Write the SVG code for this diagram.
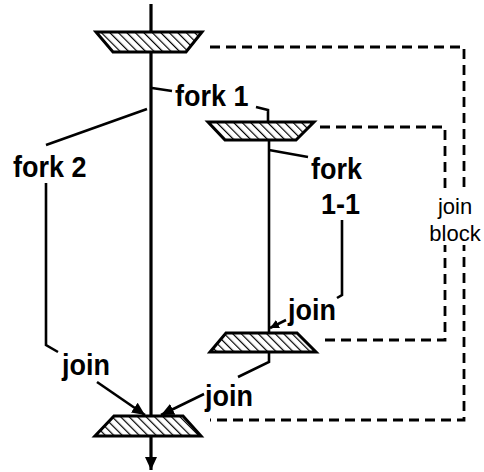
<svg xmlns="http://www.w3.org/2000/svg" width="484" height="472" viewBox="0 0 484 472">
  <defs>
    <pattern id="hatch" patternUnits="userSpaceOnUse" width="6" height="6" patternTransform="rotate(-45)">
      <line x1="0" y1="0" x2="0" y2="6" stroke="#000" stroke-width="2.4"/>
    </pattern>
    <marker id="arr" markerUnits="userSpaceOnUse" markerWidth="14" markerHeight="12" refX="13" refY="6" orient="auto">
      <path d="M0,0 L13,6 L0,12 Z" fill="#000"/>
    </marker>
    <marker id="arrs" markerUnits="userSpaceOnUse" markerWidth="10" markerHeight="9" refX="9" refY="4.5" orient="auto">
      <path d="M0,0 L9,4.5 L0,9 Z" fill="#000"/>
    </marker>
  </defs>
  <style>
    .bar { fill: url(#hatch); stroke: #000; stroke-width: 3; stroke-linejoin: miter; }
    .ln { fill: none; stroke: #000; stroke-width: 2.6; }
    .main { fill: none; stroke: #000; stroke-width: 3.2; }
    .dash { fill: none; stroke: #000; stroke-width: 2.8; stroke-dasharray: 10 6; }
    .lbl { font-family: "Liberation Sans", Arial, sans-serif; font-weight: bold; font-size: 27px; fill: #000; }
    .blk { font-family: "Liberation Sans", Arial, sans-serif; font-size: 22px; fill: #000; text-anchor: middle; }
  </style>
  <rect width="484" height="472" fill="#fff"/>

  <g id="connectors">
    <line class="main" x1="151" y1="4" x2="151" y2="32"/>
    <line class="main" x1="151" y1="52" x2="151" y2="416"/>
    <line class="main" x1="151" y1="437" x2="151" y2="470" marker-end="url(#arr)"/>
    <line class="ln" x1="269" y1="140" x2="269" y2="333"/>
    <path class="dash" d="M210,47 H464 V420 H210"/>
    <path class="dash" d="M320,127 H445 V340 H322"/>
    <line class="ln" x1="97" y1="382" x2="145" y2="415" marker-end="url(#arr)"/>
    <line class="ln" x1="204" y1="394" x2="161" y2="415" marker-end="url(#arr)"/>
    <line class="ln" x1="286" y1="320" x2="270" y2="328" marker-end="url(#arrs)"/>
  </g>

  <g id="leaders">
    <polyline class="ln" points="152,88 172,91"/>
    <polyline class="ln" points="256,107 268,110 268,122"/>
    <polyline class="ln" points="147,109 46,145"/>
    <polyline class="ln" points="46,183 46,345 58,352"/>
    <polyline class="ln" points="269,150 308,157"/>
    <polyline class="ln" points="342,220 342,295 337,298"/>
    <polyline class="ln" points="269,353 269,362 238,377"/>
  </g>

  <g id="fork-top">
    <polygon class="bar" points="96,32 202,32 186,52 113,52"/>
  </g>
  <g id="fork-1-1">
    <polygon class="bar" points="208,122 314,122 296,140 225,140"/>
  </g>
  <g id="join-1-1">
    <polygon class="bar" points="226,333 297,333 316,352 210,352"/>
  </g>
  <g id="join-bottom">
    <polygon class="bar" points="114,416 183,416 201,436 95,436"/>
  </g>

  <g id="labels">
    <text class="lbl" transform="translate(175,106) scale(1,1.12)">fork 1</text>
    <text class="lbl" transform="translate(13,177) scale(1,1.12)">fork 2</text>
    <text class="lbl" transform="translate(311,179) scale(1,1.12)">fork</text>
    <text class="lbl" transform="translate(321,214) scale(1,1.12)">1-1</text>
    <text class="lbl" transform="translate(288,320) scale(1,1.12)">join</text>
    <text class="lbl" transform="translate(62,375) scale(1,1.12)">join</text>
    <text class="lbl" transform="translate(205,406) scale(1,1.12)">join</text>
  </g>

  <g id="join-block">
    <rect x="428" y="193" width="56" height="52" fill="#fff"/>
    <text class="blk" x="455" y="214">join</text>
    <text class="blk" x="455" y="241">block</text>
  </g>
</svg>
